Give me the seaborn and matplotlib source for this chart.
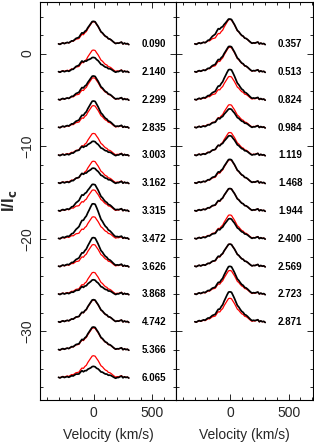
import numpy as np
import pandas as pd
import matplotlib
matplotlib.use("Agg")
import matplotlib.pyplot as plt
import seaborn as sns
from matplotlib.ticker import MultipleLocator

# ---------------- data ----------------
# velocity grid of the profiles (km/s)
velocity = np.arange(-300, 300.1, 12.5)

# common normalised line shape (peak = 1)
line_shape = [0.00, 0.01, 0.02, 0.03, 0.04, 0.05, 0.06, 0.08, 0.10, 0.12,
              0.14, 0.17, 0.20, 0.24, 0.28, 0.33, 0.38, 0.44, 0.51, 0.60,
              0.70, 0.81, 0.93, 1.00, 1.00, 1.00, 0.92, 0.79, 0.68, 0.58,
              0.50, 0.43, 0.37, 0.32, 0.27, 0.23, 0.19, 0.16, 0.13, 0.11,
              0.09, 0.07, 0.05, 0.04, 0.03, 0.02, 0.01, 0.01, 0.00]

# extra emission on the blue side of the observed profiles
blue_shoulder = [0.0, 0.0, 0.0, 0.0, 0.0, 0.0, 0.0, 0.0, 0.0, 0.1,
                 0.2, 0.35, 0.5, 0.65, 0.8, 0.9, 1.0, 0.95, 0.85, 0.7,
                 0.5, 0.3, 0.15, 0.05, 0.0, 0.0, 0.0, 0.0, 0.0, 0.0,
                 0.0, 0.0, 0.0, 0.0, 0.0, 0.0, 0.0, 0.0, 0.0, 0.0,
                 0.0, 0.0, 0.0, 0.0, 0.0, 0.0, 0.0, 0.0, 0.0]

# small wiggles of the spectra
wiggles = [0.05, -0.03, 0.04, 0.08, -0.02, 0.03, 0.06, -0.04, 0.02, 0.07,
           0.00, 0.05, 0.09, 0.02, -0.03, 0.10, 0.18, 0.00, 0.05, -0.03,
           0.04, 0.02, -0.02, 0.05, 0.08, 0.03, -0.03, 0.05, 0.02, -0.04,
           0.03, 0.00, -0.02, 0.03, -0.04, 0.02, 0.01, -0.06, -0.12, -0.18,
           -0.08, -0.05, 0.06, 0.14, -0.04, 0.08, 0.02, 0.06, -0.03]

# left panel
phases_left = ["0.090", "2.140", "2.299", "2.835", "3.003", "3.162", "3.315",
               "3.472", "3.626", "3.868", "4.742", "5.366", "6.065"]
obs_peak_left = [2.4, 1.5, 2.5, 2.8, 1.45, 1.55, 2.8, 3.7, 3.05, 1.5, 2.35, 2.4, 1.15]
mod_peak_left = [2.35, 2.3, 2.3, 2.3, 2.3, 2.3, 2.2, 2.3, 2.3, 2.3, 2.3, 2.3, 2.3]
shoulder_left = [0.15, 0.45, 0.2, 0.1, 0.25, 0.3, 0.5, 0.4, 0.15, 0.1, 0.0, 0.05, 0.15]

# right panel
phases_right = ["0.357", "0.513", "0.824", "0.984", "1.119", "1.468", "1.944",
                "2.400", "2.569", "2.723", "2.871"]
obs_peak_right = [2.65, 2.7, 3.2, 1.95, 2.05, 2.5, 2.35, 2.1, 2.35, 2.95, 3.2]
mod_peak_right = [2.6, 2.6, 2.45, 2.4, 2.4, 2.45, 2.35, 2.5, 2.35, 2.5, 2.5]
shoulder_right = [0.5, 0.15, 0.1, 0.1, 0.15, 0.1, 0.05, 0.05, 0.05, 0.0, 0.0]

step = 3.0  # vertical shift between successive spectra


def build_frame(phases, obs_peak, mod_peak, shoulder):
    rows = []
    shape = np.array(line_shape)
    for k, ph in enumerate(phases):
        base = 1.0 - step * k
        obs = base + obs_peak[k] * shape + shoulder[k] * np.array(blue_shoulder) + np.array(wiggles)
        mod = base + mod_peak[k] * shape + np.array(wiggles)
        rows.append(pd.DataFrame({"v": velocity, "flux": obs, "phase": ph, "kind": "obs"}))
        rows.append(pd.DataFrame({"v": velocity, "flux": mod, "phase": ph, "kind": "model"}))
    return pd.concat(rows, ignore_index=True)


df_left = build_frame(phases_left, obs_peak_left, mod_peak_left, shoulder_left)
df_right = build_frame(phases_right, obs_peak_right, mod_peak_right, shoulder_right)

# ---------------- plot ----------------
sns.set_style("ticks")
plt.rcParams["font.family"] = ["Liberation Sans", "DejaVu Sans"]

fig = plt.figure(figsize=(3.14, 4.47), dpi=100)
ax1 = fig.add_axes([40 / 314, 1 - 400 / 447, 136.3 / 314, 398.3 / 447])
ax2 = fig.add_axes([176.3 / 314, 1 - 400 / 447, 136.4 / 314, 398.3 / 447], sharey=ax1)

for ax, df, phases in [(ax1, df_left, phases_left), (ax2, df_right, phases_right)]:
    sns.lineplot(data=df[df.kind == "model"], x="v", y="flux", units="phase",
                 estimator=None, color="red", lw=0.9, ax=ax)
    sns.lineplot(data=df[df.kind == "obs"], x="v", y="flux", units="phase",
                 estimator=None, color="black", lw=1.25, ax=ax)
    for k, ph in enumerate(phases):
        ax.text(410, 1.0 - step * k, ph, ha="left", va="center",
                fontsize=7, fontweight="bold", color="black")

    ax.set_xlim(-458, 705)
    ax.set_ylim(-37.4, 5.6)
    ax.xaxis.set_major_locator(MultipleLocator(500))
    ax.xaxis.set_minor_locator(MultipleLocator(100))
    ax.yaxis.set_major_locator(MultipleLocator(10))
    ax.yaxis.set_minor_locator(MultipleLocator(2))
    ax.tick_params(which="both", direction="in", top=True, right=True,
                   width=0.7, labelsize=10, pad=4)
    ax.tick_params(which="major", length=4.5)
    ax.tick_params(which="minor", length=2.3)
    for s in ax.spines.values():
        s.set_linewidth(0.8)
        s.set_color("black")
    ax.set_xlabel("Velocity (km/s)", fontsize=10, labelpad=6)
    ax.set_ylabel("")

ax1.tick_params(axis="y", labelrotation=90)
for lab in ax1.get_yticklabels():
    lab.set_va("center")
ax1.set_ylabel("I/I$_\\mathbf{c}$", fontsize=12, fontweight="bold")
ax1.yaxis.set_label_coords(-0.155, 0.5)
ax2.tick_params(axis="y", labelleft=False)

fig.savefig("out.png", dpi=100)
